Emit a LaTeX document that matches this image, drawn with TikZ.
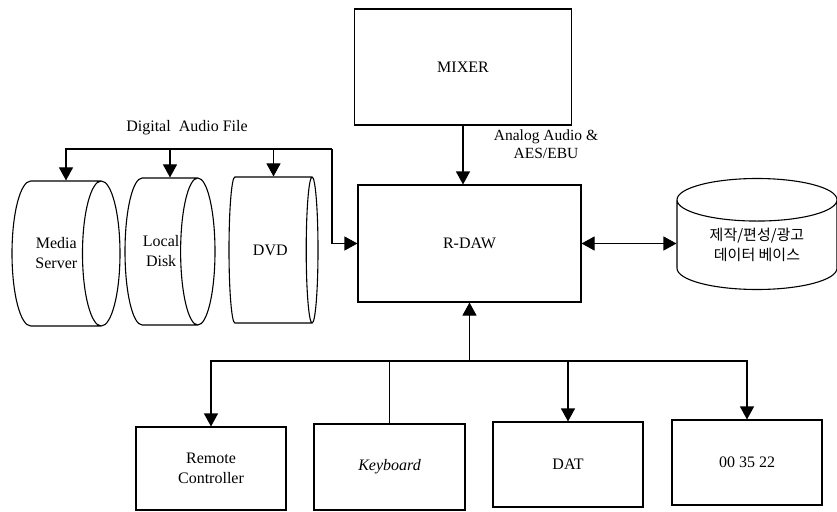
\documentclass[tikz,border=0pt]{standalone}
\usepackage{fontspec}
\setmainfont{Liberation Serif}
\newfontfamily\korfont{Noto Sans CJK KR}
\usetikzlibrary{arrows.meta,shapes.geometric}
\begin{document}
\begin{tikzpicture}[x=1pt,y=-1pt,line width=1.1pt,
  box/.style={draw,rectangle,inner sep=0pt,font=\fontsize{16}{20}\selectfont,align=center},
  drum/.style={draw,cylinder,inner sep=0pt,font=\fontsize{16}{20}\selectfont,align=center,aspect=1.1,anchor=shape center},
  tip/.style={-{Triangle[length=13pt,width=14pt]}},
  dtip/.style={{Triangle[length=13pt,width=14pt]}-{Triangle[length=13pt,width=14pt]}},
  lbl/.style={inner sep=0pt,align=center}]
\useasboundingbox (0,0) rectangle (837,511);
% boxes
\node[box,minimum width=217pt,minimum height=116pt] (mixer) at (463,67) {MIXER};
\node[box,minimum width=223pt,minimum height=117pt] (rdaw) at (469.5,243.5) {R-DAW};
\node[box,minimum width=150pt,minimum height=83pt] (rc) at (211,468.5) {Remote\\Controller};
\node[box,minimum width=151pt,minimum height=86pt] (kb) at (389.5,467) {\itshape Keyboard};
\node[box,minimum width=150pt,minimum height=85pt] (dat) at (568,464.5) {DAT};
\node[box,minimum width=150pt,minimum height=85pt] (tc) at (747,462.5) {00 35 22};
% cylinders (minimum height = along the axis, minimum width = across)
\node[drum,aspect=1.2,minimum height=108pt,minimum width=145pt] (ms) at (66,253.5) {Media\\Server};
\node[drum,minimum height=90pt,minimum width=147pt] (ld) at (170,251.5) {Local\\Disk};
\node[drum,minimum height=89pt,minimum width=146pt] (dvd) at (273.5,250) {DVD};
\node[drum,shape border rotate=90,aspect=0.45,minimum width=160pt,minimum height=111pt,
      font=\korfont\fontsize{15}{20}\selectfont] (db) at (757,234) {제작/편성/광고\\데이터 베이스};
% labels
\node[lbl,font=\fontsize{16}{20}\selectfont] (daf) at (187,128) {Digital\ \ Audio File};
\node[lbl,font=\fontsize{15.5}{18}\selectfont] (aa) at (546,144) {Analog Audio \&\\AES/EBU};
% connectors
\coordinate (bus) at (332,149);
\draw[tip] (bus) -| (ms.shape center |- ms.north);
\draw[tip] (bus) -| (ld.shape center |- ld.north);
\draw[tip] (bus) -| (dvd.shape center |- dvd.north);
\draw[tip] (bus) |- (rdaw.west);
\draw[tip] (mixer.south) -- (mixer.south |- rdaw.north);
\draw[dtip] (rdaw.east) -- (rdaw.east -| db.west);
\coordinate (j) at (469.5,361);
\draw[tip] (j) -- (rdaw.south);
\draw[tip] (j) -| (rc.north);
\draw (j) -| (kb.north);
\draw[tip] (j) -| (dat.north);
\draw[tip] (j) -| (tc.north);
\end{tikzpicture}
\end{document}
